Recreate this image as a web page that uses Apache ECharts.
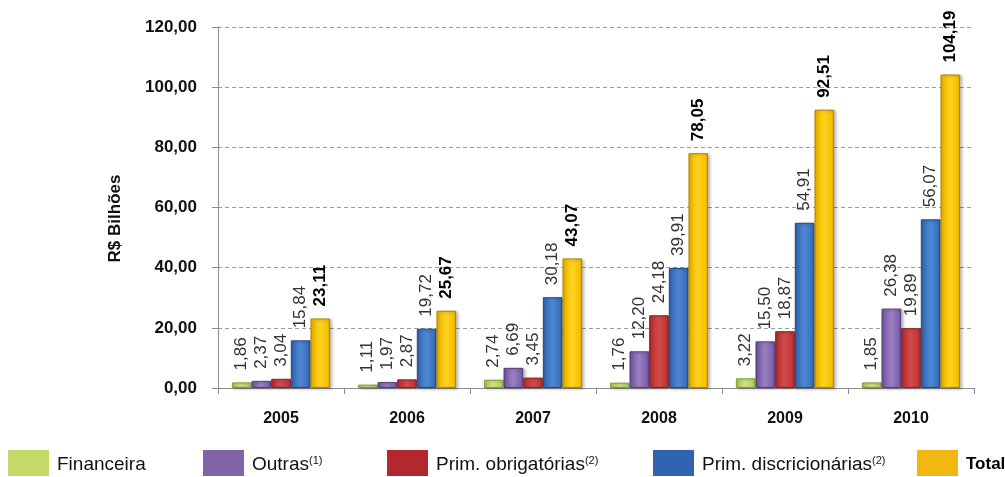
<!DOCTYPE html>
<html>
<head>
<meta charset="utf-8">
<script src="https://cdn.jsdelivr.net/npm/echarts@6/dist/echarts.min.js"></script>
<style>
  html, body { margin: 0; padding: 0; background: #fff; }
  #chart { width: 1005px; height: 477px; }
</style>
</head>
<body>
<div id="chart"></div>
<script>
// Annual values, R$ billions
const years = ['2005', '2006', '2007', '2008', '2009', '2010'];
const financeira = [1.86, 1.11, 2.74, 1.76, 3.22, 1.85];
const outras = [2.37, 1.97, 6.69, 12.20, 15.50, 26.38];
const primObrigatorias = [3.04, 2.87, 3.45, 24.18, 18.87, 19.89];
const primDiscricionarias = [15.84, 19.72, 30.18, 39.91, 54.91, 56.07];
const total = [23.11, 25.67, 43.07, 78.05, 92.51, 104.19];
const yTicks = { min: 0, max: 120, step: 20 };

const fmt = v => v.toFixed(2).replace('.', ',');
const FONT = 'Liberation Sans, Arial, sans-serif';

// Shaded bar fill: darker edges, lighter centre
function bevel(dark, light, mid) {
  return {
    type: 'linear', x: 0, y: 0, x2: 1, y2: 0,
    colorStops: [
      { offset: 0, color: dark },
      { offset: 0.12, color: mid },
      { offset: 0.5, color: light },
      { offset: 0.88, color: mid },
      { offset: 1, color: dark }
    ]
  };
}

const seriesDefs = [
  { name: 'Financeira', data: financeira, legendColor: '#c3da68', fill: bevel('#8fae3c', '#cfe57f', '#b5d160'), border: '#7f9c33', bold: false },
  { name: 'Outras', data: outras, legendColor: '#8064a8', fill: bevel('#5e4585', '#9a7fc2', '#7f61aa'), border: '#553d7a', bold: false },
  { name: 'Prim. obrigatórias', data: primObrigatorias, legendColor: '#b3282e', fill: bevel('#962226', '#d34a4a', '#bf3636'), border: '#8a1f22', bold: false },
  { name: 'Prim. discricionárias', data: primDiscricionarias, legendColor: '#2f64b0', fill: bevel('#245093', '#4d87d3', '#3a70bd'), border: '#214a88', bold: false },
  { name: 'Total', data: total, legendColor: '#f2b712', fill: bevel('#d9a000', '#ffd21f', '#f6c000'), border: '#b08300', bold: true }
];

const series = seriesDefs.map(d => ({
  name: d.name,
  type: 'bar',
  data: d.data,
  barGap: '0%',
  barCategoryGap: '22%',
  color: d.legendColor,
  itemStyle: {
    color: d.fill,
    borderColor: d.border,
    borderWidth: 1,
    shadowColor: 'rgba(0,0,0,0.25)',
    shadowBlur: 3,
    shadowOffsetX: 2,
    shadowOffsetY: 1
  },
  label: {
    show: true,
    position: 'top',
    rotate: 90,
    align: 'left',
    verticalAlign: 'middle',
    distance: 12,
    fontFamily: FONT,
    fontSize: 17,
    fontWeight: d.bold ? 'bold' : 'normal',
    color: d.bold ? '#000' : '#333',
    formatter: p => fmt(p.value)
  }
}));

// One legend block per series so each sits at its own x position
const legendLeft = [8, 203, 387, 653, 917];
const legendText = {
  'Financeira': 'Financeira',
  'Outras': 'Outras{s|(1)}',
  'Prim. obrigatórias': 'Prim. obrigatórias{s|(2)}',
  'Prim. discricionárias': 'Prim. discricionárias{s|(2)}',
  'Total': '{b|Total}'
};
const legends = seriesDefs.map((d, i) => ({
  data: [d.name],
  left: legendLeft[i],
  top: 450,
  padding: 0,
  icon: 'rect',
  itemWidth: 41,
  itemHeight: 26,
  itemGap: 0,
  selectedMode: false,
  itemStyle: { color: d.legendColor, borderWidth: 0 },
  formatter: n => legendText[n],
  textStyle: {
    fontFamily: FONT,
    fontSize: 19,
    color: '#111',
    padding: [3, 0, 0, 3],
    rich: {
      s: { fontSize: 11, verticalAlign: 'top', padding: [0, 0, 8, 0], fontFamily: FONT, color: '#111' },
      b: { fontSize: 17, fontWeight: 'bold', fontFamily: FONT, color: '#000' }
    }
  }
}));

const chart = echarts.init(document.getElementById('chart'), null, { renderer: 'canvas' });
chart.setOption({
  animation: false,
  backgroundColor: '#ffffff',
  legend: legends,
  grid: { left: 218, right: 31, top: 27, bottom: 89, containLabel: false },
  xAxis: {
    type: 'category',
    data: years,
    axisLine: { lineStyle: { color: '#8c8c8c', width: 1 } },
    axisTick: { show: true, length: 6, alignWithLabel: false, lineStyle: { color: '#8c8c8c' } },
    axisLabel: {
      margin: 23,
      fontFamily: FONT,
      fontSize: 16,
      fontWeight: 'bold',
      color: '#111'
    }
  },
  yAxis: {
    type: 'value',
    min: yTicks.min,
    max: yTicks.max,
    interval: yTicks.step,
    name: 'R$ Bilhões',
    nameLocation: 'middle',
    nameGap: 94,
    nameRotate: 90,
    nameTextStyle: {
      fontFamily: FONT,
      fontSize: 17,
      fontWeight: 'bold',
      color: '#111',
      padding: [0, 22, 0, 0]
    },
    axisLine: { show: true, lineStyle: { color: '#8c8c8c', width: 1 } },
    axisTick: { show: true, length: 6, lineStyle: { color: '#8c8c8c' } },
    axisLabel: {
      margin: 21,
      fontFamily: FONT,
      fontSize: 17,
      fontWeight: 'bold',
      color: '#111',
      formatter: v => fmt(v)
    },
    splitLine: { show: true, lineStyle: { color: '#9a9a9a', type: [4, 3], width: 1 } }
  },
  series: series
});
</script>
</body>
</html>
